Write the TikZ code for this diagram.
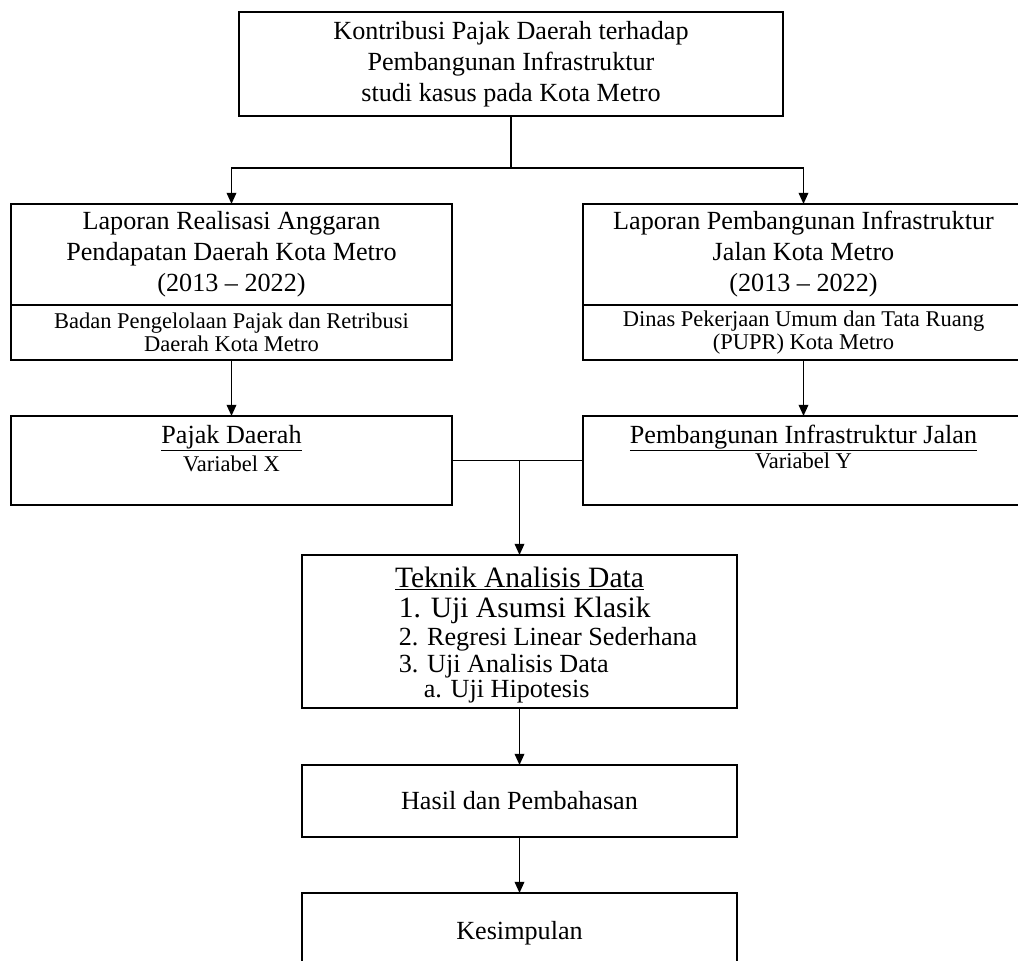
\documentclass[tikz,border=0pt]{standalone}
\usepackage{fontspec}
\setmainfont{Liberation Serif}
\usepackage{tikz}
\usetikzlibrary{positioning,arrows.meta}

\begin{document}
\begin{tikzpicture}[x=0.025cm,y=-0.025cm,line width=1.2pt,
box/.style={draw,inner sep=0pt,outer sep=0pt},
maintxt/.style={font=\fontsize{18.6}{22}\selectfont,align=center},
subtxt/.style={font=\fontsize{16}{16.4}\selectfont,align=center},
bigtxt/.style={font=\fontsize{21}{24}\selectfont},
arr/.style={-{Triangle[length=2.8mm,width=2.4mm]}}]
\useasboundingbox (0,0) rectangle (1018,960); \clip (0,0) rectangle (1018,960);
\node[box,maintxt,minimum width=13.6cm,minimum height=2.6cm] (kontribusi) at
(511,64) {Kontribusi Pajak Daerah terhadap\\Pembangunan Infrastruktur\\studi
kasus pada Kota Metro};
\node[box,maintxt,minimum width=11.025cm,minimum height=2.525cm] (lraHead) at
(231.5,254.5) {Laporan Realisasi Anggaran\\Pendapatan Daerah Kota
Metro\\(2013 -- 2022)}; \node[box,subtxt,minimum width=11.025cm,minimum
height=1.375cm] (lraSrc) at (231.5,332.5) {Badan Pengelolaan Pajak dan
Retribusi\\Daerah Kota Metro};
\node[box,maintxt,minimum width=11.025cm,minimum height=2.525cm] (lpiHead) at
(803.5,254.5) {Laporan Pembangunan Infrastruktur\\Jalan Kota Metro\\(2013 --
2022)}; \node[box,subtxt,minimum width=11.025cm,minimum height=1.375cm]
(lpiSrc) at (803.5,332.5) {Dinas Pekerjaan Umum dan Tata Ruang\\(PUPR) Kota
Metro};
\node[box,minimum width=11.025cm,minimum height=2.225cm] (pajak) at
(231.5,460.5) {}; \node[maintxt,anchor=base] (pajakName) at (231.5,443)
{\underline{Pajak Daerah}}; \node[subtxt,anchor=base] (pajakVar) at
(231.5,471) {Variabel X};
\node[box,minimum width=11.025cm,minimum height=2.225cm] (infra) at
(803.5,460.5) {}; \node[maintxt,anchor=base] (infraName) at (803.5,443)
{\underline{Pembangunan Infrastruktur Jalan}}; \node[subtxt,anchor=base]
(infraVar) at (803.5,468) {Variabel Y};
\node[box,minimum width=10.875cm,minimum height=3.825cm] (teknik) at
(519.5,631.5) {}; \node[bigtxt,anchor=base] (tadHead) at (519.5,587)
{\underline{Teknik Analisis Data}}; \node[bigtxt,anchor=base west,inner
sep=0pt] (tadA) at (398,617) {1. Uji Asumsi Klasik};
\node[maintxt,anchor=base west,inner sep=0pt] (tadB) at (398,645) {2. Regresi
Linear Sederhana}; \node[maintxt,anchor=base west,inner sep=0pt] (tadC) at
(398,672) {3. Uji Analisis Data}; \node[maintxt,anchor=base west,inner
sep=0pt] (tadD) at (423,697) {a. Uji Hipotesis};
\node[box,maintxt,minimum width=10.875cm,minimum height=1.8cm] (hasil) at
(519.5,801) {Hasil dan Pembahasan};
\node[box,maintxt,minimum width=10.875cm,minimum height=2cm] (simpulan) at
(519.5,933) {Kesimpulan};
\coordinate (split) at (kontribusi.south |- 0,168); \draw (kontribusi.south)
-- (split); \draw[arr] (split) -| (lraHead.north); \draw[arr] (split) -|
(lpiHead.north); \draw[arr] (lraSrc.south) -- (pajak.north); \draw[arr]
(lpiSrc.south) -- (infra.north); \draw (pajak.east) -- (infra.west);
\coordinate (join) at (teknik.north |- pajak.east); \draw[arr] (join) --
(teknik.north); \draw[arr] (teknik.south) -- (hasil.north); \draw[arr]
(hasil.south) -- (simpulan.north);
\end{tikzpicture}
\end{document}
